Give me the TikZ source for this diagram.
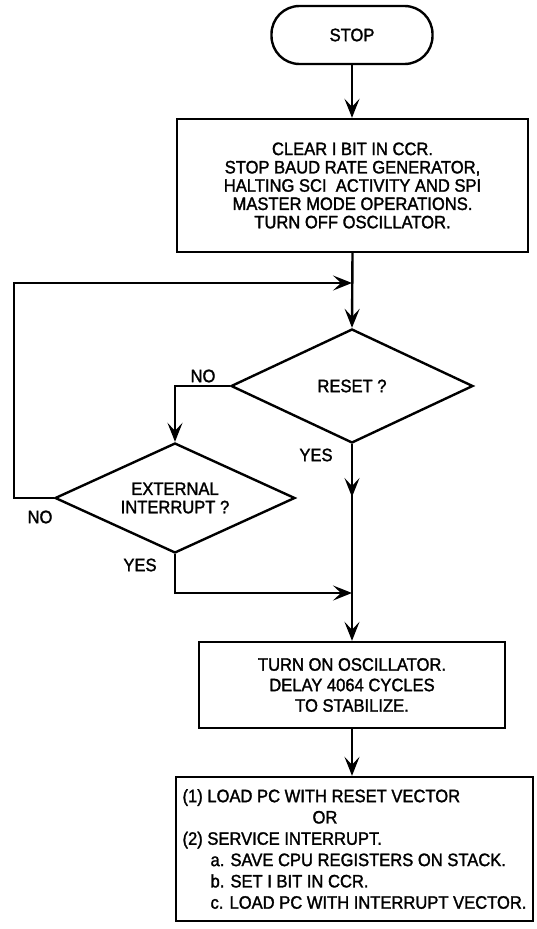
\documentclass[tikz,border=0pt]{standalone}
\usepackage{fontspec}
\setmainfont{Liberation Sans}[FakeStretch=0.92,FakeBold=1.6]
\usetikzlibrary{arrows.meta,shapes.geometric}
\begin{document}
\begin{tikzpicture}[x=1pt,y=-1pt, line width=2.4pt,
  every node/.style={font=\fontsize{18}{18.3}\selectfont},
  box/.style={draw, rectangle, inner sep=4pt, align=center},
  term/.style={draw, rounded corners=28pt, minimum width=161pt, minimum height=58pt},
  decision/.style={draw, diamond, shape aspect=2.2, inner sep=0pt, align=center},
  arr/.style={-{Stealth[length=19pt,width=15pt,inset=8pt]}},
  lbl/.style={inner sep=0pt}]
\useasboundingbox (0,0) rectangle (537,929);

\node[term] (stop) at (352,35) {STOP};
\node[box, minimum width=351pt, minimum height=133pt] (clear) at (352.5,185.5)
  {CLEAR I BIT IN CCR.\\STOP BAUD RATE GENERATOR,\\HALTING SCI\ \ ACTIVITY AND SPI\\MASTER MODE OPERATIONS.\\TURN OFF OSCILLATOR.};
\node[decision, minimum width=242pt, minimum height=114pt] (reset) at (352,386) {RESET ?};
\node[decision, minimum width=240pt, minimum height=110pt] (ext) at (175,498) {EXTERNAL\\INTERRUPT ?};
\node[box, minimum width=306pt, minimum height=86pt, font=\fontsize{18}{20.5}\selectfont] (osc) at (352,685)
  {TURN ON OSCILLATOR.\\DELAY 4064 CYCLES\\TO STABILIZE.};
\node[box, minimum width=357pt, minimum height=144pt, align=left, inner sep=4pt,
  font=\fontsize{18}{21.3}\selectfont] (load) at (354.5,849)
  {(1) LOAD PC WITH RESET VECTOR\\
   \hspace*{130pt}OR\\
   (2) SERVICE INTERRUPT.\\
   \hspace*{28pt}a. SAVE CPU REGISTERS ON STACK.\\
   \hspace*{28pt}b. SET I BIT IN CCR.\\
   \hspace*{28pt}c. LOAD PC WITH INTERRUPT VECTOR.};

\coordinate (loopin) at (352,283);
\coordinate (loopl) at (14,498);
\coordinate (loopt) at (14,283);
\coordinate (mid) at (352,497);
\coordinate (yesin) at (352,593);

\draw[arr] (stop.south) -- (stop.south |- clear.north);
\draw[arr] (clear.south) -- (reset.north);
\draw[arr] (ext.west) -- (loopl) -- (loopt) -- (loopin);
\draw[arr] (reset.west) -| (ext.north);
\draw[arr] (reset.south) -- (mid);
\draw[arr] (reset.south) -- (reset.south |- osc.north);
\draw[arr] (ext.south) |- (yesin);
\draw[arr] (osc.south) -- (osc.south |- load.north);

\node[lbl] (noreset) at (203,376) {NO};
\node[lbl] (yesreset) at (316,455) {YES};
\node[lbl] (noext) at (40,517) {NO};
\node[lbl] (yesext) at (140,565) {YES};
\end{tikzpicture}
\end{document}
